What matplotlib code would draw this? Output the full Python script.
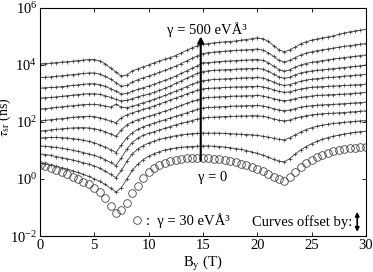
import numpy as np
import matplotlib.pyplot as plt
from matplotlib.ticker import LogLocator, NullLocator

plt.rcParams['font.family'] = ['Liberation Serif', 'DejaVu Serif']
plt.rcParams['mathtext.fontset'] = 'stix'
plt.rcParams['font.size'] = 10.5

# magnetic field grid (T)
b_field = np.arange(0, 30.5, 0.5)

# log10(tau) for gamma = 0 ... 500 (offset curves), bottom to top
log_tau = [
    # gamma = 0
    [0.56, 0.53, 0.49, 0.45, 0.40, 0.35, 0.29, 0.23, 0.16, 0.09, 0.01,
     -0.08, -0.19, -0.32, -0.46, -0.30, 0.00, 0.30, 0.52, 0.68, 0.80,
     0.89, 0.96, 1.02, 1.06, 1.09, 1.11, 1.13, 1.14, 1.15, 1.16,
     1.16, 1.15, 1.14, 1.12, 1.10, 1.07, 1.04, 1.00, 0.95, 0.90,
     0.84, 0.77, 0.69, 0.63, 0.60, 0.72, 0.88, 1.02, 1.14, 1.24,
     1.32, 1.39, 1.45, 1.50, 1.54, 1.58, 1.61, 1.64, 1.66, 1.68],
    [0.88, 0.86, 0.83, 0.79, 0.75, 0.71, 0.67, 0.62, 0.57, 0.52, 0.46,
     0.38, 0.28, 0.16, 0.05, 0.30, 0.62, 0.88, 1.05, 1.17, 1.26,
     1.33, 1.39, 1.44, 1.48, 1.52, 1.55, 1.57, 1.59, 1.60, 1.61,
     1.61, 1.61, 1.61, 1.60, 1.59, 1.58, 1.57, 1.56, 1.55, 1.53,
     1.50, 1.47, 1.43, 1.39, 1.37, 1.45, 1.55, 1.65, 1.73, 1.80,
     1.85, 1.89, 1.92, 1.95, 1.97, 1.99, 2.01, 2.02, 2.04, 2.05],
    [1.16, 1.15, 1.13, 1.11, 1.08, 1.05, 1.01, 0.97, 0.93, 0.88, 0.83,
     0.76, 0.68, 0.58, 0.47, 0.75, 1.05, 1.28, 1.43, 1.53, 1.60,
     1.66, 1.72, 1.78, 1.84, 1.90, 1.95, 2.00, 2.05, 2.10, 2.14,
     2.16, 2.17, 2.18, 2.19, 2.20, 2.20, 2.21, 2.21, 2.22, 2.22,
     2.20, 2.16, 2.11, 2.06, 2.04, 2.07, 2.13, 2.18, 2.22, 2.25,
     2.27, 2.29, 2.30, 2.31, 2.32, 2.33, 2.35, 2.36, 2.38, 2.39],
    [1.44, 1.45, 1.46, 1.46, 1.45, 1.44, 1.42, 1.39, 1.36, 1.32, 1.27,
     1.20, 1.12, 1.03, 0.93, 1.20, 1.45, 1.62, 1.74, 1.83, 1.90,
     1.96, 2.02, 2.08, 2.14, 2.20, 2.26, 2.32, 2.38, 2.44, 2.49,
     2.51, 2.52, 2.53, 2.54, 2.55, 2.56, 2.56, 2.57, 2.57, 2.58,
     2.56, 2.52, 2.47, 2.42, 2.40, 2.42, 2.47, 2.52, 2.55, 2.57,
     2.59, 2.60, 2.61, 2.62, 2.63, 2.64, 2.65, 2.67, 2.68, 2.70],
    [1.68, 1.70, 1.72, 1.74, 1.76, 1.78, 1.79, 1.80, 1.80, 1.79, 1.77,
     1.72, 1.66, 1.58, 1.50, 1.72, 1.90, 2.00, 2.08, 2.14, 2.20,
     2.26, 2.32, 2.38, 2.44, 2.51, 2.58, 2.65, 2.72, 2.78, 2.84,
     2.86, 2.87, 2.88, 2.89, 2.90, 2.91, 2.91, 2.92, 2.92, 2.93,
     2.91, 2.87, 2.82, 2.77, 2.75, 2.77, 2.82, 2.86, 2.89, 2.91,
     2.93, 2.94, 2.95, 2.96, 2.97, 2.98, 2.99, 3.01, 3.02, 3.04],
    [2.04, 2.06, 2.08, 2.10, 2.12, 2.14, 2.16, 2.18, 2.19, 2.20, 2.19,
     2.15, 2.09, 2.03, 1.98, 2.15, 2.25, 2.32, 2.38, 2.44, 2.50,
     2.56, 2.63, 2.70, 2.77, 2.84, 2.91, 2.98, 3.05, 3.11, 3.16,
     3.18, 3.19, 3.20, 3.21, 3.22, 3.23, 3.23, 3.24, 3.24, 3.25,
     3.23, 3.19, 3.13, 3.07, 3.04, 3.06, 3.11, 3.16, 3.19, 3.22,
     3.23, 3.24, 3.25, 3.26, 3.27, 3.28, 3.29, 3.30, 3.31, 3.33],
    [2.46, 2.47, 2.49, 2.51, 2.53, 2.55, 2.57, 2.59, 2.61, 2.62, 2.62,
     2.60, 2.56, 2.52, 2.62, 2.52, 2.50, 2.55, 2.61, 2.67, 2.73,
     2.79, 2.86, 2.93, 3.00, 3.08, 3.16, 3.24, 3.32, 3.39, 3.45,
     3.47, 3.49, 3.50, 3.51, 3.52, 3.53, 3.54, 3.55, 3.55, 3.56,
     3.54, 3.48, 3.40, 3.32, 3.28, 3.31, 3.37, 3.43, 3.47, 3.50,
     3.52, 3.54, 3.56, 3.57, 3.59, 3.61, 3.62, 3.64, 3.65, 3.67],
    [2.84, 2.85, 2.86, 2.88, 2.90, 2.92, 2.94, 2.96, 2.98, 2.99, 2.99,
     2.97, 2.92, 2.86, 2.79, 2.74, 2.76, 2.82, 2.88, 2.93, 2.98,
     3.04, 3.11, 3.18, 3.26, 3.35, 3.44, 3.53, 3.62, 3.70, 3.77,
     3.79, 3.81, 3.82, 3.83, 3.84, 3.85, 3.86, 3.87, 3.87, 3.88,
     3.85, 3.78, 3.68, 3.58, 3.53, 3.57, 3.65, 3.72, 3.76, 3.79,
     3.81, 3.83, 3.85, 3.87, 3.89, 3.91, 3.93, 3.95, 3.97, 4.00],
    [3.19, 3.20, 3.21, 3.22, 3.24, 3.26, 3.28, 3.30, 3.32, 3.34, 3.34,
     3.31, 3.25, 3.17, 3.08, 2.98, 3.00, 3.08, 3.14, 3.20, 3.26,
     3.32, 3.39, 3.46, 3.53, 3.61, 3.70, 3.79, 3.88, 3.97, 4.08,
     4.08, 4.10, 4.12, 4.13, 4.14, 4.15, 4.16, 4.17, 4.18, 4.19,
     4.16, 4.08, 3.96, 3.84, 3.78, 3.83, 3.92, 4.00, 4.05, 4.09,
     4.12, 4.15, 4.18, 4.21, 4.23, 4.26, 4.28, 4.30, 4.33, 4.35],
    [3.56, 3.57, 3.58, 3.60, 3.62, 3.64, 3.66, 3.68, 3.70, 3.72, 3.72,
     3.68, 3.60, 3.50, 3.38, 3.25, 3.28, 3.40, 3.48, 3.55, 3.61,
     3.67, 3.74, 3.81, 3.88, 3.96, 4.05, 4.14, 4.23, 4.32, 4.40,
     4.43, 4.45, 4.47, 4.48, 4.50, 4.51, 4.52, 4.53, 4.54, 4.56,
     4.52, 4.43, 4.30, 4.16, 4.10, 4.16, 4.26, 4.35, 4.41, 4.46,
     4.50, 4.53, 4.56, 4.59, 4.62, 4.65, 4.68, 4.70, 4.73, 4.75],
    # gamma = 500
    [4.04, 4.05, 4.06, 4.08, 4.10, 4.11, 4.13, 4.15, 4.17, 4.19, 4.19,
     4.14, 4.04, 3.89, 3.75, 3.61, 3.65, 3.79, 3.86, 3.93, 4.00,
     4.07, 4.14, 4.20, 4.26, 4.33, 4.42, 4.51, 4.60, 4.67, 4.72,
     4.75, 4.77, 4.79, 4.81, 4.82, 4.84, 4.87, 4.89, 4.92, 4.95,
     4.92, 4.83, 4.68, 4.53, 4.46, 4.53, 4.63, 4.74, 4.81, 4.87,
     4.91, 4.95, 4.98, 5.02, 5.07, 5.12, 5.16, 5.19, 5.22, 5.25],
]

# gamma = 30 eVA^3 (circles)
log_tau_30 = [0.49, 0.46, 0.39, 0.32, 0.25, 0.18, 0.07, 0.00, -0.10, -0.18, -0.32,
              -0.46, -0.67, -0.95, -1.19, -1.09, -0.84, -0.49, -0.25, 0.04, 0.25,
              0.39, 0.49, 0.56, 0.63, 0.67, 0.70, 0.74, 0.74, 0.74, 0.74,
              0.74, 0.72, 0.70, 0.67, 0.63, 0.60, 0.53, 0.49, 0.42, 0.35,
              0.28, 0.18, 0.07, 0.00, -0.07, 0.07, 0.25, 0.42, 0.56, 0.67,
              0.77, 0.84, 0.91, 0.98, 1.02, 1.05, 1.09, 1.09, 1.11, 1.11]

fig = plt.figure(figsize=(3.73, 2.72), dpi=100)
ax = fig.add_axes([0.107, 0.132, 0.874, 0.839])

for curve in log_tau:
    ax.plot(b_field, 10 ** np.array(curve), color='#3a3a3a', linewidth=0.6,
            marker='+', markersize=3, markeredgewidth=0.5)

ax.plot(b_field, 10 ** np.array(log_tau_30), linestyle='none', marker='o',
        markersize=5.5, markerfacecolor='none', markeredgecolor='#444444',
        markeredgewidth=0.6)

ax.set_yscale('log')
ax.set_xlim(0, 30)
ax.set_ylim(1e-2, 1e6)
ax.set_xticks([0, 5, 10, 15, 20, 25, 30])
ax.yaxis.set_major_locator(LogLocator(base=100))
ax.yaxis.set_minor_locator(NullLocator())
ax.tick_params(direction='in', top=True, right=True, length=3, width=0.6,
               labelsize=10.5, pad=2)
for s in ax.spines.values():
    s.set_linewidth(0.8)

ax.set_xlabel('B$_\\mathrm{y}$ (T)', fontsize=10.5)
ax.xaxis.set_label_coords(0.5, -0.078)
ax.set_ylabel('$\\tau_\\mathrm{sr}$ (ns)', fontsize=10)
ax.yaxis.set_label_coords(-0.084, 0.52)

# gamma arrow
ax.annotate('', xy=(14.8, 10 ** 5.0), xytext=(14.8, 10 ** 0.65),
            arrowprops=dict(arrowstyle='-|>', color='black', lw=1.5,
                            mutation_scale=9, shrinkA=0, shrinkB=0))
ax.text(15.4, 10 ** 5.25, 'γ = 500 eVÅ³', ha='center', va='center', fontsize=10.5)
ax.text(15.9, 10 ** 0.05, 'γ = 0', ha='center', va='center', fontsize=10.5)

# legend-like annotations
ax.plot([8.9], [10 ** -1.45], linestyle='none', marker='o', markersize=5.5,
        markerfacecolor='none', markeredgecolor='#444444', markeredgewidth=0.6)
ax.text(9.8, 10 ** -1.45, ':  γ = 30 eVÅ³', ha='left', va='center', fontsize=10.5)
ax.text(19.5, 10 ** -1.5, 'Curves offset by:', ha='left', va='center', fontsize=10.5)
ax.annotate('', xy=(29.2, 10 ** -1.15), xytext=(29.2, 10 ** -1.85),
            arrowprops=dict(arrowstyle='<|-|>', color='black', lw=1.2,
                            mutation_scale=6, shrinkA=0, shrinkB=0))

fig.savefig('out.png', dpi=100)
